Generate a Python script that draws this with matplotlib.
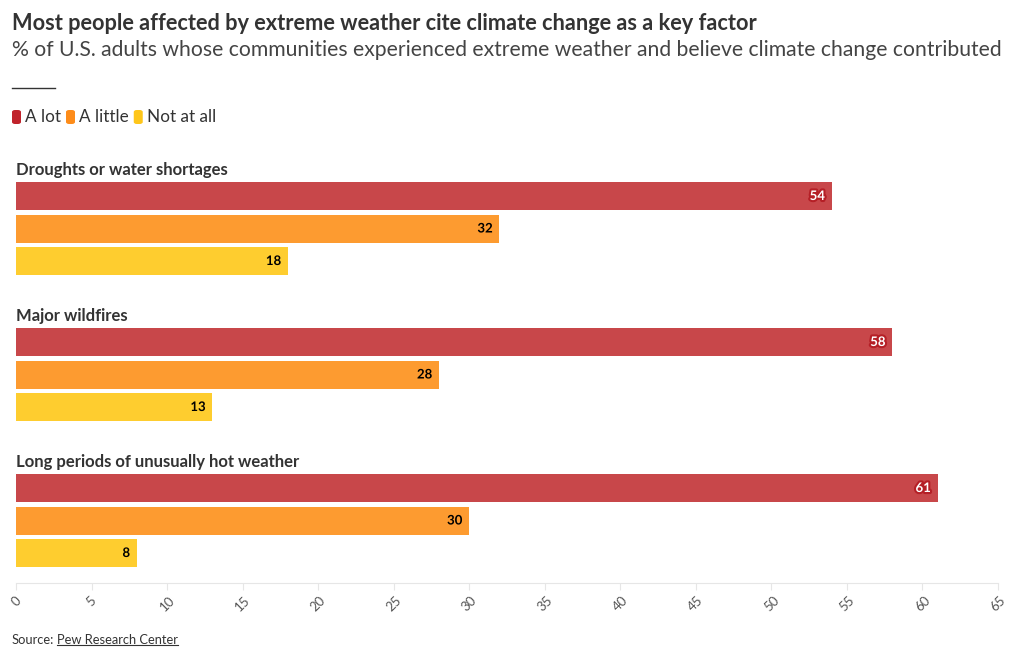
import matplotlib.pyplot as plt
import matplotlib.patheffects as pe
from matplotlib.patches import FancyBboxPatch

plt.rcParams["font.family"] = ["Lato", "DejaVu Sans"]

# data
groups = ["Droughts or water shortages", "Major wildfires", "Long periods of unusually hot weather"]
series = ["A lot", "A little", "Not at all"]
a_lot = [54, 58, 61]
a_little = [32, 28, 30]
not_at_all = [18, 13, 8]
ticks = list(range(0, 70, 5))

colors = ["#c8474a", "#fd9b30", "#fecd2f"]
legend_colors = ["#c0232b", "#fd8c1a", "#fec61a"]
W, H = 1020, 659

fig = plt.figure(figsize=(W / 100, H / 100), dpi=100)
# axes spanning px 16..998 horizontally, 160..583 vertically
ax = fig.add_axes([16 / W, 1 - 583 / H, (998 - 16) / W, (583 - 160) / H])
ax.set_xlim(0, 65)
ax.set_ylim(583, 160)  # pixel-like units, top is down

bar_h = 28
for g, name in enumerate(groups):
    base = 196 + g * 146
    ax.text(0, base - 26, name, fontsize=12, fontweight="bold", color="#333333",
            ha="left", va="center")
    for i, vals in enumerate([a_lot, a_little, not_at_all]):
        y = base + i * 32.5
        v = vals[g]
        ax.barh(y, v, height=bar_h, color=colors[i], edgecolor="none")
        if i == 0:
            txt_color, halo = "white", "#b51f26"
        else:
            txt_color, halo = "black", colors[i]
        ax.text(v - 0.45, y, str(v), fontsize=9.5, fontweight="bold", color=txt_color,
                ha="right", va="center",
                path_effects=[pe.withStroke(linewidth=3, foreground=halo)])

for s in ["top", "right", "left"]:
    ax.spines[s].set_visible(False)
ax.spines["bottom"].set_color("#e6e6e6")
ax.set_yticks([])
ax.set_xticks(ticks)
ax.set_xticklabels([str(t) for t in ticks], rotation=45, fontsize=9.5, color="#555555",
                   ha="center", va="top")
ax.tick_params(axis="x", length=5, color="#e6e6e6", pad=3)

# header
fig.text(12 / W, 1 - 24 / H, "Most people affected by extreme weather cite climate change as a key factor",
         fontsize=15.7, fontweight="bold", color="#333333", ha="left", va="center")
fig.text(12 / W, 1 - 50 / H, "% of U.S. adults whose communities experienced extreme weather and believe climate change contributed",
         fontsize=15.2, color="#444444", ha="left", va="center")
fig.add_artist(plt.Line2D([12 / W, 55 / W], [1 - 88 / H, 1 - 88 / H], color="#333333", lw=1))

# legend
x = 12
for name, c in zip(series, legend_colors):
    box = FancyBboxPatch((x / W, 1 - 124 / H), 9 / W, 14 / H,
                         boxstyle="round,pad=0,rounding_size=0.003",
                         transform=fig.transFigure, color=c, ec="none")
    fig.add_artist(box)
    t = fig.text((x + 13) / W, 1 - 117 / H, name, fontsize=12.3, color="#333333",
                 ha="left", va="center")
    fig.canvas.draw()
    bb = t.get_window_extent()
    x = bb.x1 + 5

# source
lead = fig.text(12 / W, 1 - 640 / H, "Source:", fontsize=9.3, color="#333333", ha="left", va="center")
fig.canvas.draw()
lx = lead.get_window_extent().x1 + 3
src = fig.text(lx / W, 1 - 640 / H, "Pew Research Center", fontsize=9.3, color="#333333",
               ha="left", va="center")
fig.canvas.draw()
bb = src.get_window_extent()
fig.add_artist(plt.Line2D([bb.x0 / W, bb.x1 / W], [(bb.y0 + 1) / H, (bb.y0 + 1) / H],
                          color="#333333", lw=0.8))

fig.savefig("out.png", dpi=100)
